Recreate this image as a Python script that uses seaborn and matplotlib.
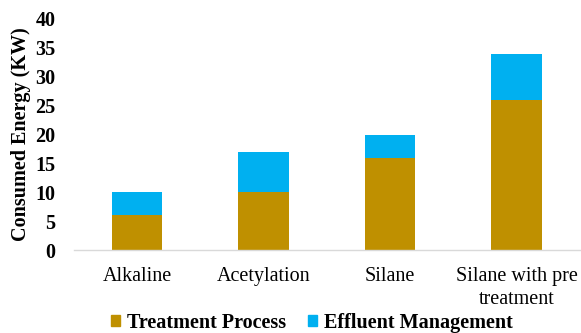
import matplotlib
matplotlib.use("Agg")
import matplotlib.pyplot as plt
import seaborn as sns
import pandas as pd
from matplotlib.patches import Patch

categories = ["Alkaline", "Acetylation", "Silane", "Silane with pre\ntreatment"]
treatment_process = [6, 10, 16, 26]
effluent_management = [4, 7, 4, 8]

gold = "#BF9000"
cyan = "#00B0F0"

sns.set_theme(style="white")
plt.rcParams["font.family"] = ["Liberation Serif", "DejaVu Serif"]
plt.rcParams["text.color"] = "black"
plt.rcParams["axes.labelcolor"] = "black"
plt.rcParams["xtick.color"] = "black"
plt.rcParams["ytick.color"] = "black"

df = pd.DataFrame({
    "category": categories,
    "treatment": treatment_process,
    "total": [t + e for t, e in zip(treatment_process, effluent_management)],
})

fig = plt.figure(figsize=(5.81, 3.33), dpi=100)
ax = fig.add_axes([0.127, 0.249, 0.871, 0.694])

# stacked bars: full height in cyan, treatment part drawn over it in gold
sns.barplot(data=df, x="category", y="total", color=cyan, width=0.4,
            saturation=1, ax=ax, edgecolor="none")
sns.barplot(data=df, x="category", y="treatment", color=gold, width=0.4,
            saturation=1, ax=ax, edgecolor="none")

ax.set_ylim(0, 40)
ax.set_yticks(range(0, 41, 5))
ax.set_xlim(-0.5, 3.5)
ax.set_xlabel("")
ax.set_ylabel("Consumed Energy (KW)", fontsize=14.5, fontweight="bold", labelpad=3)
ax.tick_params(axis="y", labelsize=14.5, length=0, pad=13)
ax.tick_params(axis="x", labelsize=14.5, length=0, pad=12)
for lab in ax.get_yticklabels():
    lab.set_fontweight("bold")
for lab in ax.get_xticklabels():
    lab.set_linespacing(1.3)

for side in ["top", "right", "left"]:
    ax.spines[side].set_visible(False)
ax.spines["bottom"].set_color("#D9D9D9")
ax.spines["bottom"].set_linewidth(1.0)

handles = [Patch(color=gold, label="Treatment Process"),
           Patch(color=cyan, label="Effluent Management")]
fig.legend(handles=handles, loc="center", bbox_to_anchor=(0.537, 0.03),
           ncol=2, frameon=False, prop={"weight": "bold", "size": 14.5},
           handlelength=0.45, handleheight=0.45, handletextpad=0.35,
           columnspacing=1.1)

fig.savefig("out.png", dpi=100)
